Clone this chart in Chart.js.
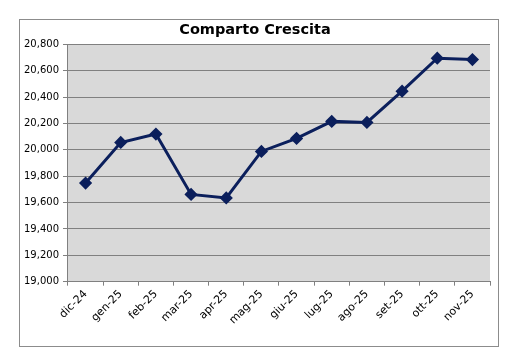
<!DOCTYPE html>
<html>
<head>
<meta charset="utf-8">
<script src="https://cdn.jsdelivr.net/npm/chart.js@4"></script>
<style>
  body { margin: 0; background: #fff; }
  #box { position: absolute; left: 19px; top: 19px; width: 478px; height: 326px; border: 1px solid #8c8c8c; }
</style>
</head>
<body>
<div id="box"><canvas id="chart" width="478" height="326"></canvas></div>
<script>
const labels = ['dic-24', 'gen-25', 'feb-25', 'mar-25', 'apr-25', 'mag-25', 'giu-25', 'lug-25', 'ago-25', 'set-25', 'ott-25', 'nov-25'];
const values = [19748, 20056, 20120, 19662, 19635, 19988, 20087, 20216, 20208, 20445, 20695, 20685];
const yMin = 19000;
const yMax = 20800;
const yStep = 200;

const plotBg = {
  id: 'plotBg',
  beforeDraw(chart) {
    const { ctx, chartArea } = chart;
    ctx.save();
    ctx.fillStyle = '#d9d9d9';
    ctx.fillRect(chartArea.left, chartArea.top, chartArea.right - chartArea.left, chartArea.bottom - chartArea.top);
    ctx.restore();
  }
};

const font = 'Verdana, "DejaVu Sans", sans-serif';

new Chart(document.getElementById('chart'), {
  type: 'line',
  data: {
    labels: labels,
    datasets: [{
      data: values,
      borderColor: '#0b1f5c',
      backgroundColor: '#0b1f5c',
      borderWidth: 3,
      pointStyle: 'rectRot',
      pointRadius: 4.5,
      tension: 0
    }]
  },
  options: {
    responsive: false,
    animation: false,
    layout: { padding: { left: 0, right: 8, top: 0, bottom: 17 } },
    scales: {
      x: {
        offset: true,
        grid: { drawOnChartArea: false, drawTicks: true, tickLength: 4, color: '#808080', offset: true },
        border: { color: '#808080' },
        ticks: { color: '#000', font: { family: font, size: 11 }, maxRotation: 45, minRotation: 45, padding: 2 }
      },
      y: {
        min: yMin,
        max: yMax,
        grid: { color: '#808080', tickLength: 5 },
        border: { color: '#808080' },
        ticks: {
          stepSize: yStep,
          color: '#000',
          font: { family: font, size: 10 },
          padding: 4,
          callback: (v) => v.toLocaleString('en-US')
        }
      }
    },
    plugins: {
      legend: { display: false },
      tooltip: { enabled: false },
      title: {
        display: true,
        text: 'Comparto Crescita',
        color: '#000',
        font: { family: font, size: 14.5, weight: 'bold' },
        padding: { top: 2, bottom: 5 }
      }
    }
  },
  plugins: [plotBg]
});
</script>
</body>
</html>
